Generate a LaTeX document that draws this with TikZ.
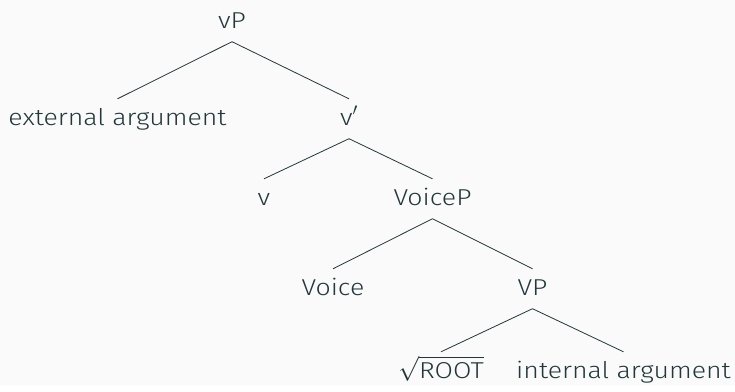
\documentclass[tikz,border=0pt]{standalone}
\usepackage{amsmath}
\usepackage{fontspec}
\setmainfont{Fira Sans Light}[FakeStretch=1.16]
\usetikzlibrary{positioning}
\definecolor{treetext}{HTML}{23373B}
\definecolor{slidebg}{HTML}{FAFAFA}

\begin{document}
\begin{tikzpicture}[x=1pt, y=-1pt, font=\fontsize{23}{28}\selectfont, color=treetext,
    cat/.style={inner xsep=2pt, inner ysep=3pt, text height=23pt, text depth=10.5pt, anchor=base},
    branch/.style={draw=treetext, line width=0.8pt}]

\fill[slidebg] (0,0) rectangle (735,385);

% nodes, row by row
\node[cat] (vP) at (232,28) {vP};
\node[cat] (ext) at (117.5,125) {external argument};
\node[cat] (vbar) at (349,125) {v$'$};
\node[cat] (v) at (264,205) {v};
\node[cat] (voiceP) at (432.5,205) {VoiceP};
\node[cat] (voice) at (333,295) {Voice};
\node[cat] (VP) at (532.5,295) {VP};
\node[cat] (root) at (441,378) {$\sqrt{\text{ROOT}}$};
\node[cat] (int) at (623.5,378) {internal argument};

% branches
\draw[branch] (vP.south) -- (ext.north);
\draw[branch] (vP.south) -- (vbar.north);
\draw[branch] (vbar.south) -- (v.north);
\draw[branch] (vbar.south) -- (voiceP.north);
\draw[branch] (voiceP.south) -- (voice.north);
\draw[branch] (voiceP.south) -- (VP.north);
\draw[branch] (VP.south) -- (root.north);
\draw[branch] (VP.south) -- (int.north);
\end{tikzpicture}
\end{document}
